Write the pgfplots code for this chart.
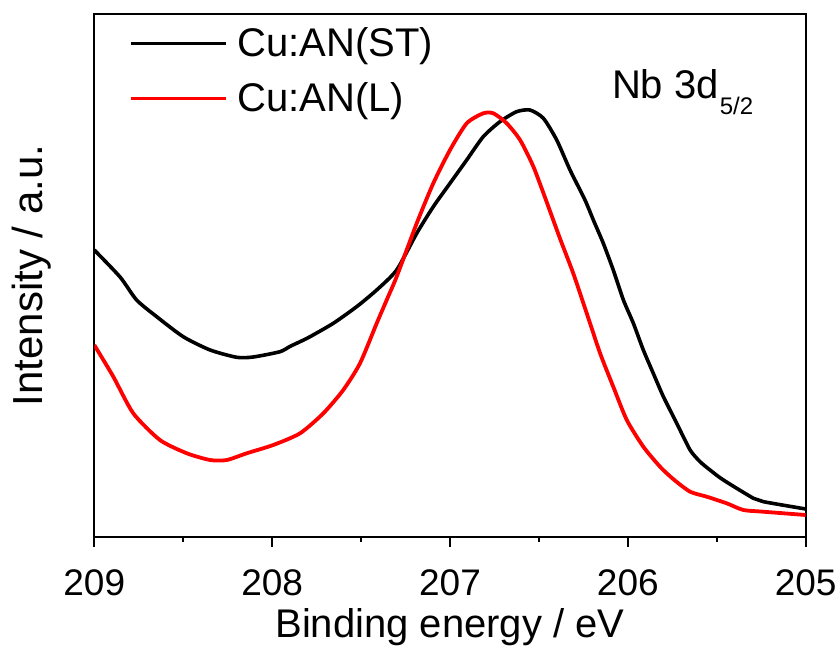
\documentclass[border=0pt]{standalone}
\usepackage{fontspec}
\setmainfont{Liberation Sans}
\usepackage{pgfplots}
\usepackage{pgfplotstable}
\pgfplotsset{compat=1.18}

% Nb 3d5/2 spectra, binding energy (eV) vs intensity (a.u.)
\pgfplotstableread{
E       I
209.000 5.485
208.855 4.968
208.762 4.528
208.649 4.209
208.500 3.826
208.349 3.572
208.199 3.432
208.106 3.438
207.956 3.539
207.900 3.640
207.843 3.731
207.787 3.826
207.656 4.083
207.525 4.400
207.412 4.720
207.300 5.102
207.187 5.804
207.094 6.313
207.000 6.761
206.906 7.207
206.813 7.653
206.719 7.940
206.625 8.131
206.550 8.163
206.475 8.005
206.400 7.590
206.325 7.015
206.241 6.442
206.194 6.059
206.138 5.613
206.082 5.102
206.025 4.528
205.969 4.083
205.913 3.572
205.857 3.126
205.800 2.678
205.725 2.169
205.650 1.659
205.594 1.435
205.538 1.276
205.463 1.085
205.294 0.735
205.238 0.670
205.000 0.530
}\st

\pgfplotstableread{
E       I
209.000 3.667
208.893 3.061
208.781 2.361
208.631 1.850
208.480 1.596
208.349 1.467
208.255 1.467
208.143 1.596
207.994 1.754
207.843 1.978
207.712 2.361
207.600 2.807
207.506 3.317
207.412 4.083
207.356 4.528
207.300 4.974
207.187 5.996
207.094 6.761
207.000 7.398
206.906 7.909
206.813 8.100
206.756 8.100
206.681 7.909
206.606 7.590
206.531 7.079
206.456 6.400
206.381 5.700
206.307 5.039
206.231 4.274
206.156 3.509
206.082 2.870
206.006 2.233
205.913 1.722
205.819 1.339
205.744 1.100
205.650 0.861
205.556 0.765
205.444 0.639
205.351 0.511
205.238 0.478
205.000 0.415
}\lg

\begin{document}
\begin{tikzpicture}
\useasboundingbox (-47.15pt,-57.65pt) rectangle (371.85pt,268.35pt);
\begin{axis}[
    at={(0,0)}, anchor=south west,
    scale only axis,
    width=355.7pt, height=261.35pt,
    x dir=reverse,
    xmin=205, xmax=209, ymin=0, ymax=10,
    xtick={205,206,207,208,209},
    minor xtick={205.5,206.5,207.5,208.5},
    xtick pos=bottom, xtick align=outside,
    ytick=\empty,
    minor ytick={1,2,...,9},
    ytick pos=both, ytick align=inside,
    major tick length=5pt, minor tick length=2.5pt,
    axis line style={line width=1pt},
    every tick/.style={black, line width=1pt},
    /pgf/number format/assume math mode=true,
    xticklabel style={font=\fontsize{18.5}{18.5}\selectfont, anchor=base, yshift=-24.5pt},
    xlabel={Binding energy / eV},
    xlabel style={font=\fontsize{20}{20}\selectfont, at={(axis description cs:0.5,0)}, anchor=base, yshift=-50.6pt},
    ylabel={Intensity / a.u.},
    ylabel style={font=\fontsize{21}{21}\selectfont, at={(axis description cs:0,0.5)}, anchor=base, yshift=25.7pt},
    legend cell align=left,
    legend style={draw=none, fill=none, inner sep=0pt,
        at={(axis description cs:0.0478,0.975)}, anchor=north west,
        font=\fontsize{20}{20}\selectfont,
        nodes={inner sep=0pt}, column sep=5pt, row sep=11.5pt},
    legend image code/.code={\draw[#1] (0pt,0pt) -- (47.5pt,0pt);},
]
\addplot[black, line width=1.8pt, smooth, tension=0.4] table[x=E, y=I] {\st};
\addlegendentry{Cu:AN(ST)}
\addplot[red, line width=1.9pt, smooth, tension=0.4] table[x=E, y=I] {\lg};
\addlegendentry{Cu:AN(L)}
\node[anchor=base west, inner sep=0pt, font=\fontsize{20}{20}\selectfont]
    at (axis cs:206.091,8.387) {Nb 3d\kern0.5pt\raisebox{-8.3pt}{\fontsize{12}{12}\selectfont 5/2}};
\end{axis}
\begin{axis}[
    at={(0,0)}, anchor=south west,
    scale only axis,
    width=355.7pt, height=261.35pt,
    x dir=reverse,
    xmin=205, xmax=209, ymin=0, ymax=10,
    hide y axis,
    xtick=\empty,
    minor xtick={205,205.5,...,209},
    xtick pos=top, xtick align=inside,
    minor tick length=2.5pt,
    axis line style={line width=1pt},
    every tick/.style={black, line width=1pt},
]
\end{axis}
\end{tikzpicture}
\end{document}
